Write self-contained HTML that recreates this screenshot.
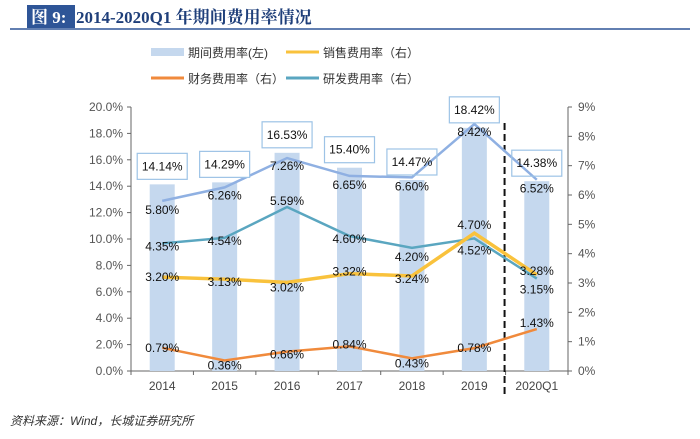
<!DOCTYPE html>
<html><head><meta charset="utf-8"><style>
body{margin:0;background:#fff;width:700px;height:434px;overflow:hidden;font-family:"Liberation Sans","Noto Sans CJK SC",sans-serif}
</style></head><body>
<svg width="700" height="434" xmlns="http://www.w3.org/2000/svg">
<g>
<rect x="27" y="5" width="48" height="23" fill="#2e5597"/>
<text x="31" y="23" font-family="Liberation Serif,Noto Serif CJK SC,serif" font-weight="bold" font-size="17" fill="#fff">图 9:</text>
<text x="76" y="23" font-family="Liberation Serif,Noto Serif CJK SC,serif" font-weight="bold" font-size="17" fill="#1f3f7a">2014-2020Q1 年期间费用率情况</text>
<line x1="10" y1="29" x2="690" y2="29" stroke="#2e5597" stroke-width="1.5"/>
</g>
<g font-size="12" fill="#333">
<rect x="151" y="48" width="33" height="8" fill="#c5d8ee"/><text x="188" y="57">期间费用率(左)</text>
<line x1="286" y1="52" x2="319" y2="52" stroke="#f9c23c" stroke-width="3"/><text x="323" y="57">销售费用率（右）</text>
<line x1="151" y1="78" x2="184" y2="78" stroke="#f08a3c" stroke-width="3"/><text x="188" y="83">财务费用率（右）</text>
<line x1="286" y1="78" x2="319" y2="78" stroke="#5aa6c0" stroke-width="3"/><text x="323" y="83">研发费用率（右）</text>
</g>
<g id="plot"></g>
<text x="10" y="425" font-size="12" font-style="italic" fill="#333">资料来源：Wind，长城证券研究所</text>
</svg>
<script>
const categories=["2014","2015","2016","2017","2018","2019","2020Q1"];
const totalRate=[14.14,14.29,16.53,15.40,14.47,18.42,14.38];
const salesRate=[3.20,3.13,3.02,3.32,3.24,4.70,3.28];
const mgmtRate=[5.80,6.26,7.26,6.65,6.60,8.42,6.52];
const finRate=[0.79,0.36,0.66,0.84,0.43,0.78,1.43];
const rdRate=[4.35,4.54,5.59,4.60,4.20,4.52,3.15];
const leftTicks=[0,2,4,6,8,10,12,14,16,18,20];
const rightTicks=[0,1,2,3,4,5,6,7,8,9];
const NS="http://www.w3.org/2000/svg";
const g=document.getElementById('plot');
const L=131,R=568,T=107,B=371;
const step=(R-L)/categories.length;
const x=i=>L+step*(i+0.5);
const yL=v=>B-(v/20)*(B-T);
const yR=v=>B-(v/9)*(B-T);
function el(t,a,p){const e=document.createElementNS(NS,t);for(const k in a)e.setAttribute(k,a[k]);(p||g).appendChild(e);return e;}
// axes
let ax=el('line',{x1:L,y1:T,x2:L,y2:B,stroke:'#666'});


ax=el('line',{x1:R,y1:T,x2:R,y2:B,stroke:'#666'});


ax=el('line',{x1:L,y1:B,x2:R,y2:B,stroke:'#666'});


leftTicks.forEach(v=>{el('line',{x1:L-4,y1:yL(v),x2:L,y2:yL(v),stroke:'#666'});
const t=el('text',{x:L-8,y:yL(v)+4,'text-anchor':'end','font-size':12,fill:'#555'});t.textContent=v.toFixed(1)+'%';

});
rightTicks.forEach(v=>{el('line',{x1:R,y1:yR(v),x2:R+4,y2:yR(v),stroke:'#666'});
const t=el('text',{x:R+10,y:yR(v)+4,'font-size':12,fill:'#555'});t.textContent=v+'%';

});
for(let i=0;i<=categories.length;i++)el('line',{x1:L+step*i,y1:B,x2:L+step*i,y2:B+4,stroke:'#666'});
categories.forEach((c,i)=>{const t=el('text',{x:x(i),y:B+19,'text-anchor':'middle','font-size':12,fill:'#444'});t.textContent=c;

});
// bars
totalRate.forEach((v,i)=>{const r=el('rect',{x:x(i)-12.5,y:yL(v),width:25,height:B-yL(v),fill:'#c5d8ee'});

});
// dashed divider
const d=el('line',{x1:L+step*6-1,y1:123,x2:L+step*6-1,y2:395,stroke:'#111','stroke-width':2,'stroke-dasharray':'7,4'});


// lines
const series=[[mgmtRate,'#8fb0e2','mgmt-line',2.5],[rdRate,'#5aa6c0','rd-line',2.5],[salesRate,'#f9c23c','sales-line',3.5],[finRate,'#f08a3c','fin-line',2.5]];
series.forEach(([arr,col,name,w])=>{const p=el('polyline',{points:arr.map((v,i)=>x(i)+','+yR(v)).join(' '),fill:'none',stroke:col,'stroke-width':w});

});
// labels
function lab(arr,dy,name){arr.forEach((v,i)=>{const t=el('text',{x:x(i),y:yR(v)+dy[i]+4,'text-anchor':'middle','font-size':12,fill:'#111'});t.textContent=v.toFixed(2)+'%';

});}
lab(mgmtRate,[9,8,8,9,9,8,9],'mgmt-label');
lab(rdRate,[3,3,-6,3,9,12,11],'rd-label');
lab(salesRate,[0,3,5,-2,3,-8,-4],'sales-label');
lab(finRate,[0,5,3,-2,5,0,-6],'fin-label');
totalRate.forEach((v,i)=>{const cy=yL(v)-18;
const r=el('rect',{x:x(i)-25,y:cy-13,width:50,height:26,fill:'#fff','fill-opacity':i==4||i==6?0:1,stroke:'#9dc3e6','stroke-width':1.2});


const t=el('text',{x:x(i),y:cy+4,'text-anchor':'middle','font-size':12,fill:'#111'});t.textContent=v.toFixed(2)+'%';

});
</script>
</body></html>
